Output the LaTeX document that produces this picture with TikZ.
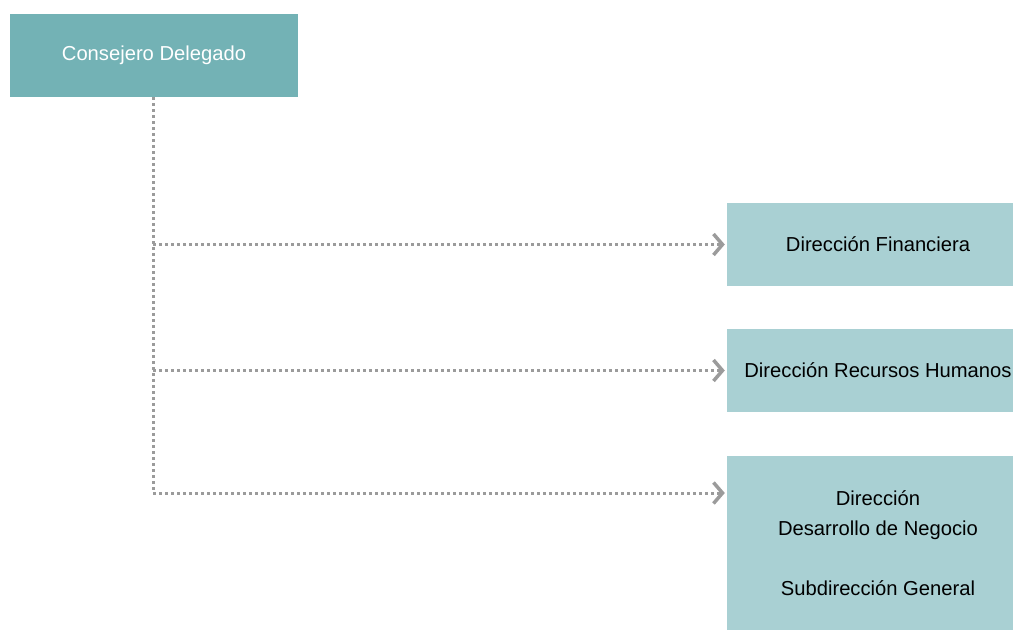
\documentclass[tikz,border=0pt]{standalone}
\usepackage{fontspec}
\setmainfont{Liberation Sans}
\usetikzlibrary{arrows.meta}
\definecolor{teal1}{HTML}{73B2B5}
\definecolor{teal2}{HTML}{A9D0D3}
\definecolor{dotgray}{HTML}{9B9B9B}
\tikzstyle{boss}=[shape=rectangle, minimum width=288pt, minimum height=83pt, inner sep=0, fill=teal1, text=white, font=\fontsize{20.2}{30}\selectfont]
\tikzstyle{dept}=[shape=rectangle, minimum width=286pt, inner sep=0, fill=teal2, text=black, align=center, font=\fontsize{20.2}{30}\selectfont]
\tikzstyle{dotedge}=[line width=3pt, dotgray, dash pattern=on 3pt off 3pt]
\tikzstyle{dotarrow}=[line width=3pt, dotgray, dash pattern=on 3pt off 3pt, -{Straight Barb[length=9pt,width=21pt,line width=3.5pt]}, shorten >=2pt]

\begin{document}
\begin{tikzpicture}[x=1pt,y=-1pt]
\useasboundingbox (0,0) rectangle (1013,631);
\node at (154,55.5) [boss](cd){Consejero Delegado};
\node at (870,244.5) [dept, minimum height=83pt](fin){\hspace{16pt}Direcci\'on Financiera};
\node at (870,370.5) [dept, minimum height=83pt](rrhh){\hspace{16pt}Direcci\'on Recursos Humanos};
\node at (870,543) [dept, minimum height=174pt](neg){\hspace{16pt}Direcci\'on\\\hspace{16pt}Desarrollo de Negocio\\ \\\hspace{16pt}Subdirecci\'on General};
\coordinate (j1) at (153,244.5);
\coordinate (j2) at (153,370.5);
\coordinate (j3) at (153,493);
\draw[dotedge] (cd.south -| j1)--(j3);
\draw[dotarrow] (j1)--(fin);
\draw[dotarrow] (j2)--(rrhh);
\draw[dotarrow] (j3)--(j3 -| neg.west);
\end{tikzpicture}
\end{document}
